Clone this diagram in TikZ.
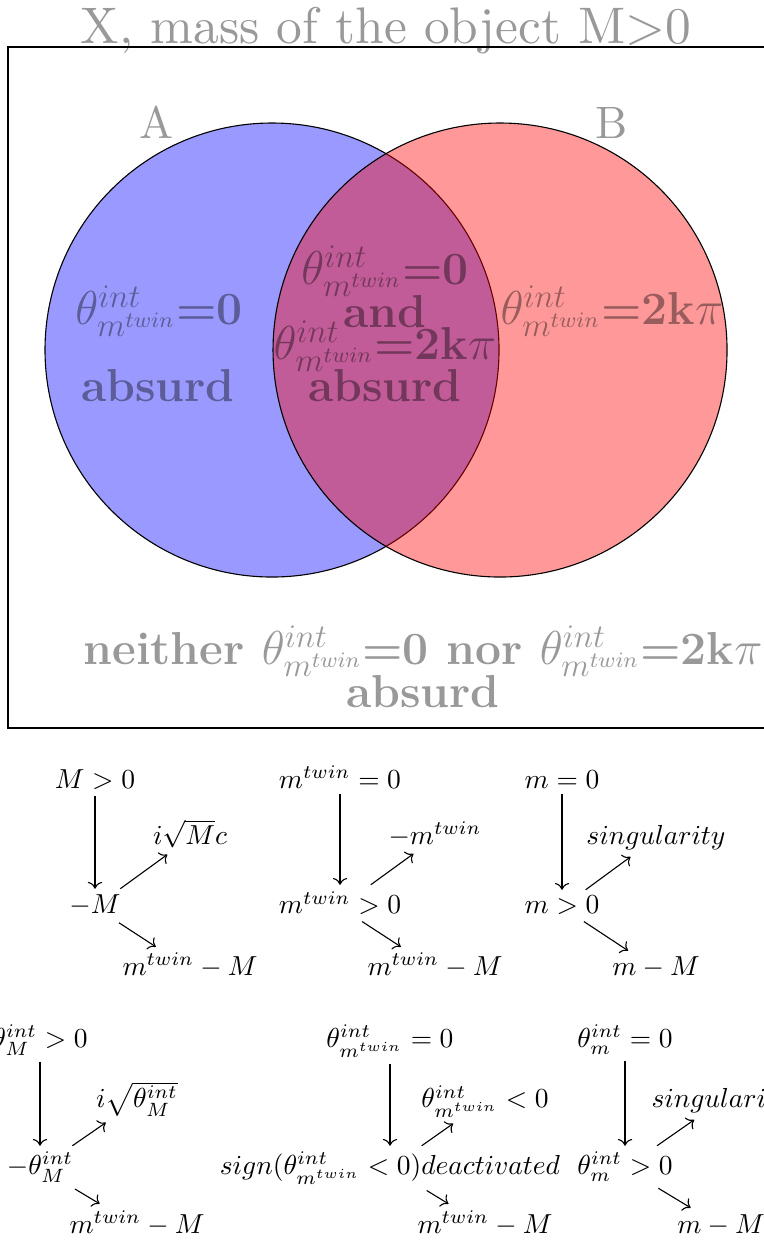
\documentclass[tikz,border=0pt]{standalone}
\usetikzlibrary{cd}

\begin{document}
\begin{tikzpicture}[>={cm to}]
\useasboundingbox (0,0) rectangle (9.763,15.846);
\tikzset{faded/.style={text=black, text opacity=0.4, anchor=base},
         titletext/.style={faded, font=\normalsize, scale=1.87},
         setname/.style={faded, font=\normalsize, scale=1.65},
         venntext/.style={faded, font=\fontsize{16.8}{20}\selectfont\bfseries},
         cell/.style={shape=asymmetrical rectangle, inner xsep=0.5ex, inner ysep=0.5ex, anchor=base}}

% 1. Rahmen mit Titel
\draw (0.102,6.543) rectangle (9.789,15.245);
\node[titletext] (title) at (4.933,15.290) {X, mass of the object M$>$0};

% 2. Die beiden Kreise A und B
\draw[fill=blue, fill opacity=0.4] (3.476,11.373) circle (2.901);
\draw[fill=red, fill opacity=0.4] (6.390,11.373) circle (2.901);
\node[setname] (setA) at (2.006,14.082) {A};
\node[setname] (setB) at (7.821,14.082) {B};

% 3. Beschriftung der Bereiche
\node[venntext] (onlyA) at (2.032,11.693) {$\theta^{int}_{m^{twin}}$=0};
\node[venntext] (onlyAabs) at (2.019,10.709) {absurd};
\node[venntext] (bothzero) at (4.920,12.204) {$\theta^{int}_{m^{twin}}$=0};
\node[venntext] (bothand) at (4.920,11.667) {and};
\node[venntext] (bothpi) at (4.920,11.246) {$\theta^{int}_{m^{twin}}$=2k$\pi$};
\node[venntext] (bothabs) at (4.920,10.709) {absurd};
\node[venntext] (onlyB) at (7.821,11.693) {$\theta^{int}_{m^{twin}}$=2k$\pi$};
\node[venntext] (neither) at (5.405,7.348) {neither $\theta^{int}_{m^{twin}}$=0 nor $\theta^{int}_{m^{twin}}$=2k$\pi$};
\node[venntext] (neitherabs) at (5.405,6.811) {absurd};

% 4. Erste Zeile der Diagramme
\node[cell] (Mpos) at (1.214,5.776) {$M>0$};
\node[cell] (Mneg) at (1.214,4.166) {$-M$};
\node[cell] (Mimag) at (2.428,5.048) {$i\sqrt{M}c$};
\node[cell] (Mdiff) at (2.428,3.374) {$m^{twin}-M$};
\draw[->] (Mpos) -- (Mneg);
\draw[->] (Mneg) -- (Mimag);
\draw[->] (Mneg) -- (Mdiff);

\node[cell] (twinzero) at (4.345,5.776) {$m^{twin}=0$};
\node[cell] (twinpos) at (4.345,4.166) {$m^{twin}>0$};
\node[cell] (twinneg) at (5.559,5.048) {$-m^{twin}$};
\node[cell] (twindiff) at (5.559,3.374) {$m^{twin}-M$};
\draw[->] (twinzero) -- (twinpos);
\draw[->] (twinpos) -- (twinneg);
\draw[->] (twinpos) -- (twindiff);

\node[cell] (mzero) at (7.182,5.776) {$m=0$};
\node[cell] (mpos) at (7.182,4.166) {$m>0$};
\node[cell] (msing) at (8.383,5.048) {$singularity$};
\node[cell] (mdiff) at (8.383,3.374) {$m-M$};
\draw[->] (mzero) -- (mpos);
\draw[->] (mpos) -- (msing);
\draw[->] (mpos) -- (mdiff);

% 5. Zweite Zeile der Diagramme
\node[cell] (thMpos) at (0.511,2.454) {$\theta^{int}_M>0$};
\node[cell] (thMneg) at (0.511,0.831) {$-\theta^{int}_M$};
\node[cell] (thMimag) at (1.751,1.687) {$i\sqrt{\theta^{int}_M}$};
\node[cell] (thMdiff) at (1.751,0.089) {$m^{twin}-M$};
\draw[->] (thMpos) -- (thMneg);
\draw[->] (thMneg) -- (thMimag);
\draw[->] (thMneg) -- (thMdiff);

\node[cell] (thtwinzero) at (4.984,2.454) {$\theta^{int}_{m^{twin}}=0$};
\node[cell] (thtwinsign) at (4.984,0.831) {$sign(\theta^{int}_{m^{twin}}<0)deactivated$};
\node[cell] (thtwinneg) at (6.198,1.687) {$\theta^{int}_{m^{twin}}<0$};
\node[cell] (thtwindiff) at (6.198,0.089) {$m^{twin}-M$};
\draw[->] (thtwinzero) -- (thtwinsign);
\draw[->] (thtwinsign) -- (thtwinneg);
\draw[->] (thtwinsign) -- (thtwindiff);

\node[cell] (thmzero) at (7.987,2.454) {$\theta^{int}_m=0$};
\node[cell] (thmpos) at (7.987,0.831) {$\theta^{int}_m>0$};
\node[cell] (thmsing) at (9.214,1.687) {$singularity$};
\node[cell] (thmdiff) at (9.214,0.089) {$m-M$};
\draw[->] (thmzero) -- (thmpos);
\draw[->] (thmpos) -- (thmsing);
\draw[->] (thmpos) -- (thmdiff);

\end{tikzpicture}
\end{document}
